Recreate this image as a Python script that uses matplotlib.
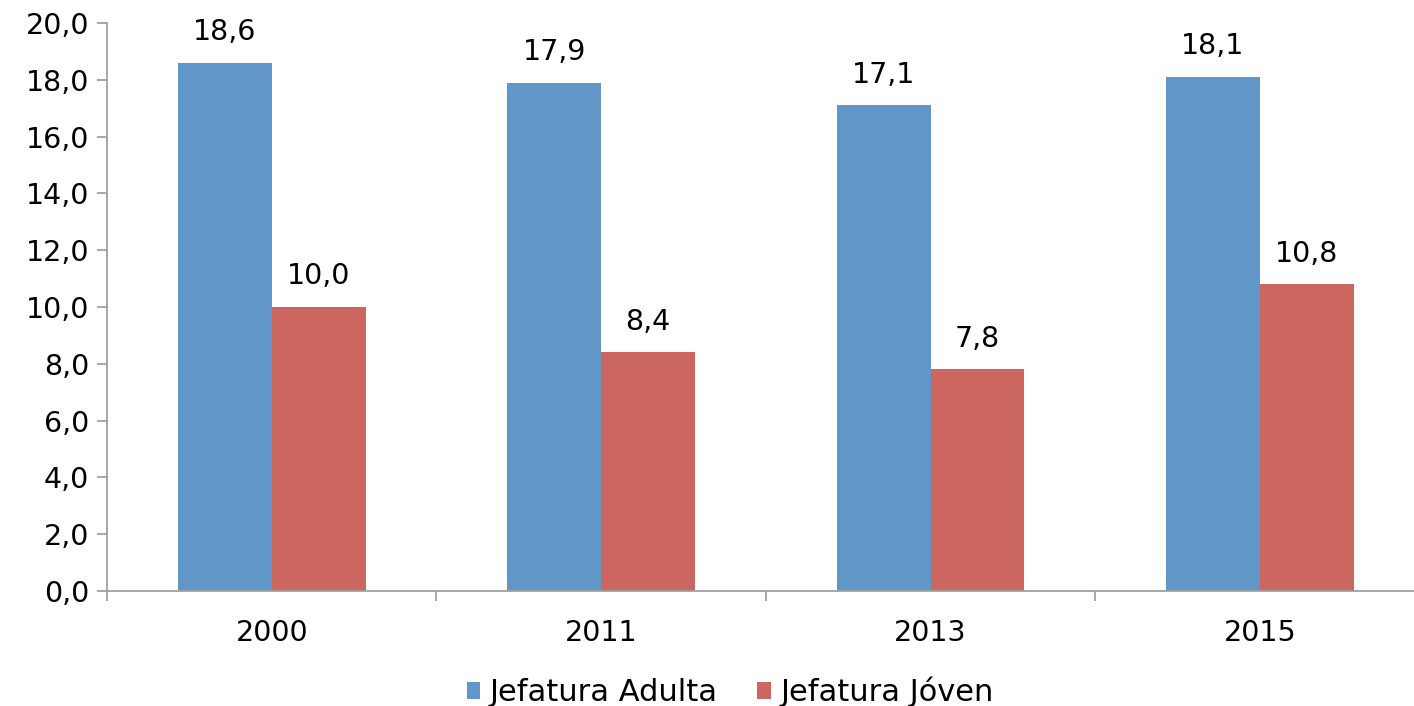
import matplotlib
matplotlib.use("Agg")
import matplotlib.pyplot as plt
import numpy as np

years = ["2000", "2011", "2013", "2015"]
adulta = [18.6, 17.9, 17.1, 18.1]
joven = [10.0, 8.4, 7.8, 10.8]
series_names = ["Jefatura Adulta", "Jefatura Jóven"]
colors = ["#6096C8", "#CC6660"]

plt.rcParams['font.family'] = ['DejaVu Sans']
fig = plt.figure(figsize=(14.14, 7.06), dpi=100)
ax = fig.add_axes([107/1414, 115/706, 1317.6/1414, 568/706])

x = np.arange(len(years))
w = 0.285
b1 = ax.bar(x - w/2, adulta, w, color=colors[0], label=series_names[0])
b2 = ax.bar(x + w/2, joven, w, color=colors[1], label=series_names[1])

fs = 20.5
for bars, vals in ((b1, adulta), (b2, joven)):
    for r, v in zip(bars, vals):
        ax.annotate(f"{v:.1f}".replace(".", ","), (r.get_x() + r.get_width()/2, v),
                    xytext=(0, 12), textcoords="offset points",
                    ha="center", va="bottom", fontsize=fs)

ax.set_xlim(-0.5, len(years) - 0.5)
ax.set_ylim(0, 20)
ax.set_yticks(np.arange(0, 20.1, 2))
ax.set_yticklabels([f"{v:.1f}".replace(".", ",") for v in np.arange(0, 20.1, 2)], fontsize=fs)
ax.set_xticks(x)
ax.set_xticklabels(years, fontsize=fs)
ax.set_xticks(np.arange(-0.5, len(years), 1), minor=True)

for s in ["top", "right"]:
    ax.spines[s].set_visible(False)
for s in ["left", "bottom"]:
    ax.spines[s].set_color("#A0A0A0")
    ax.spines[s].set_linewidth(1.3)

ax.tick_params(axis="y", direction="out", length=7, width=1.3, color="#A0A0A0", pad=6)
ax.tick_params(axis="x", which="major", length=0, pad=20)
ax.tick_params(axis="x", which="minor", direction="out", length=7, width=1.3, color="#A0A0A0")

fig.legend(handles=[b1, b2], labels=series_names, loc="center", bbox_to_anchor=(730/1414, 1 - 692/706),
           ncol=2, frameon=False, fontsize=22, handlelength=0.45, handleheight=0.45,
           handletextpad=0.3, columnspacing=1.3)

fig.savefig("out.png", dpi=100)
